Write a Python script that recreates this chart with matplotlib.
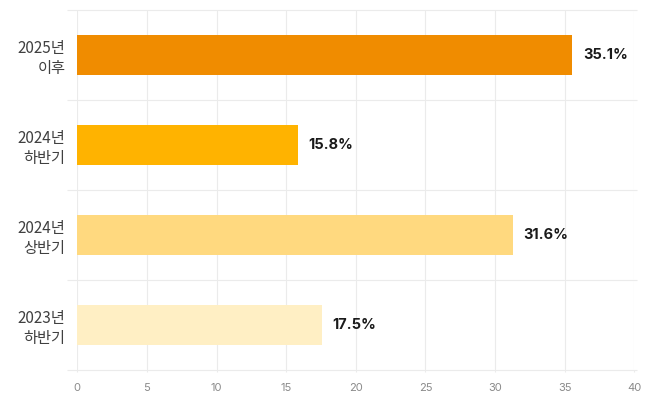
import matplotlib
matplotlib.use("Agg")
import matplotlib.pyplot as plt

categories = ["2025년\n이후", "2024년\n하반기", "2024년\n상반기", "2023년\n하반기"]
bar_values = [35.55, 15.85, 31.3, 17.6]
value_labels = ["35.1%", "15.8%", "31.6%", "17.5%"]
bar_colors = ["#F08C00", "#FFB300", "#FFD97F", "#FFEFC4"]
x_ticks = [0, 5, 10, 15, 20, 25, 30, 35, 40]

plt.rcParams['font.family'] = ['Noto Sans CJK KR', 'DejaVu Sans']

W, H = 650, 400
fig = plt.figure(figsize=(6.5, 4), dpi=100)
ax = fig.add_axes([77.3 / W, 30 / H, (634.3 - 77.3) / W, 360 / H])

grid_color = "#EBEBEB"
ypos = list(range(len(categories)))
ax.barh(ypos, bar_values, height=0.44, color=bar_colors, zorder=3)
ax.set_ylim(len(categories) - 0.5, -0.5)
ax.set_xlim(0, 40)

for y, v, lab in zip(ypos, bar_values, value_labels):
    ax.annotate(lab, (v, y), xytext=(7.5, 0), textcoords="offset points",
                ha="left", va="center", fontsize=10.5, fontweight="bold",
                color="#1A1A1A", family=["Inter", "DejaVu Sans"], zorder=4)

for s in ax.spines.values():
    s.set_visible(False)

ax.set_xticks(x_ticks)
ax.set_xticklabels([str(t) for t in x_ticks], family=["Inter", "DejaVu Sans"])
ax.tick_params(axis="x", length=1.5, width=0.8, color=grid_color, pad=8,
               labelsize=8, labelcolor="#8A8A8A")
ax.xaxis.grid(True, color=grid_color, linewidth=0.8, zorder=0)

ax.set_yticks(ypos)
ax.set_yticklabels(categories, linespacing=1.25)
ax.tick_params(axis="y", length=0, pad=8.5, labelsize=11, labelcolor="#404040")

# band separators
bounds = [-0.5 + i for i in range(len(categories) + 1)]
ax.hlines(bounds, -0.75, 40.2, colors=grid_color, linewidth=0.8,
          clip_on=False, zorder=0)

fig.savefig("out.png", dpi=100, facecolor="white")
